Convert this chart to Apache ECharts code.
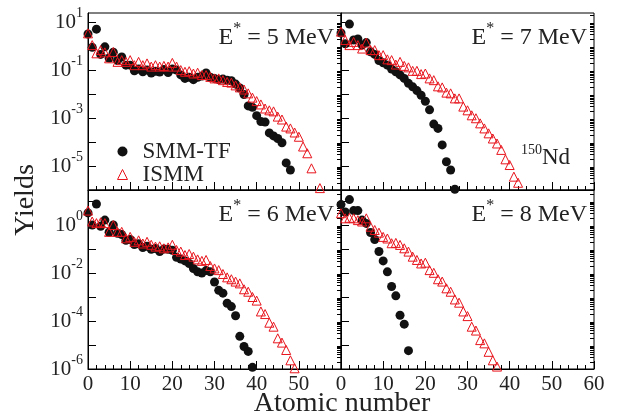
<!DOCTYPE html>
<html>
<head>
<meta charset="utf-8">
<script src="https://cdn.jsdelivr.net/npm/echarts@6.0.0/dist/echarts.min.js"></script>
<style>
html, body { margin: 0; padding: 0; background: #fff; }
#chart_yields { width: 626px; height: 419px; }
</style>
</head>
<body>
<div id="chart_yields"></div>
<script>
// fragment yields of 150Nd, array index = atomic number Z (0, 1, 2, ...)
var smm5 = [3.2, 0.89, 5.1, 0.45, 0.93, 0.32, 0.56, 0.25, 0.35, 0.16, 0.16, 0.093, 0.11, 0.085, 0.10, 0.076,
  0.089, 0.083, 0.105, 0.079, 0.11, 0.10, 0.063, 0.045, 0.05, 0.04, 0.05, 0.056, 0.076, 0.05, 0.045, 0.04,
  0.042, 0.038, 0.036, 0.026, 0.018, 0.0095, 3.2e-3, 2.8e-3, 1.26e-3, 7.1e-4, 6.8e-4, 2.4e-4, 1.8e-4, 1.4e-4,
  9.3e-5, 1.35e-5, 6.8e-6]
var ismm5 = [3.4, 1.1, 0.5, 0.68, 0.55, 0.31, 0.57, 0.22, 0.26, 0.22, 0.26, 0.16, 0.22, 0.16, 0.19, 0.14,
  0.16, 0.14, 0.15, 0.14, 0.2, 0.14, 0.1, 0.085, 0.09, 0.072, 0.078, 0.062, 0.062, 0.052, 0.045, 0.045,
  0.038, 0.032, 0.03, 0.023, 0.019, 0.0155, 0.0107, 0.0071, 0.0051, 0.0037, 0.0025, 0.0021, 0.0019, 0.00115,
  8.7e-4, 4.4e-4, 3.7e-4, 2.5e-4, 1.66e-4, 6.5e-5, 3.4e-5, 8e-6, null, 1.2e-6]
var smm7 = [3.5, 1.26, 8.3, 1.8, 2.0, 1.1, 1.4, 0.58, 0.45, 0.25, 0.2, 0.16, 0.11, 0.085, 0.063, 0.045,
  0.028, 0.02, 0.014, 0.0089, 0.005, 0.0022, 5.6e-4, 3.7e-4, 7.6e-5, 1.5e-5, 6.8e-6, 1.07e-6]
var ismm7 = [4.0, 1.8, 1.1, 1.5, 1.1, 0.79, 1.4, 0.68, 0.68, 0.42, 0.42, 0.28, 0.26, 0.17, 0.22, 0.15,
  0.13, 0.093, 0.093, 0.068, 0.072, 0.045, 0.038, 0.021, 0.019, 0.0115, 0.0107, 0.0066, 0.0066, 0.003,
  0.0021, 0.0013, 9.8e-4, 6.0e-4, 3.7e-4, 2.3e-4, 1.4e-4, 8.7e-5, 4.7e-5, 1.9e-5, 1.1e-5, 3.6e-6, 2.0e-6]
var smm6 = [3.2, 1.0, 7.5, 0.89, 1.6, 0.5, 1.0, 0.45, 0.4, 0.23, 0.25, 0.155, 0.166, 0.115, 0.13, 0.098,
  0.105, 0.079, 0.10, 0.098, 0.089, 0.045, 0.038, 0.032, 0.025, 0.0155, 0.0112, 0.01, 0.0126, 0.0112,
  4.2e-3, 1.9e-3, 1.45e-3, 5.5e-4, 4.0e-4, 1.66e-4, 2.3e-5, 8.7e-6, 5.4e-6, 1.17e-6]
var ismm6 = [4.0, 1.4, 1.2, 1.3, 1.2, 0.52, 1.0, 0.52, 0.52, 0.28, 0.32, 0.2, 0.23, 0.17, 0.2, 0.15,
  0.126, 0.13, 0.107, 0.117, 0.15, 0.091, 0.078, 0.056, 0.062, 0.048, 0.037, 0.032, 0.035, 0.0195,
  0.0155, 0.0132, 0.0091, 0.0066, 0.0055, 0.0044, 0.0037, 0.0021, 0.00166, 0.001, 7.1e-4, 2.5e-4,
  1.95e-4, 8.5e-5, 5.8e-5, 1.9e-5, 1.26e-5, 6.2e-6, 2.3e-6, 1.07e-6]
var smm8 = [7.1, 3.5, 11.5, 4.0, 4.0, 1.6, 1.17, 0.49, 0.25, 0.079, 0.032, 0.0112, 0.00275, 0.00112,
  1.74e-4, 7.4e-5, 5.8e-6]
var ismm8 = [3.1, 1.9, 2.0, 1.9, 1.6, 1.4, 1.9, 0.85, 0.62, 0.48, 0.32, 0.275, 0.174, 0.18, 0.148, 0.107,
  0.078, 0.048, 0.035, 0.025, 0.027, 0.0132, 0.0102, 0.0055, 0.0044, 0.0023, 0.00166, 7.9e-4, 5.8e-4,
  2.5e-4, 1.6e-4, 5.8e-5, 4.0e-5, 1.6e-5, 1.17e-5, 5.2e-6, 2.3e-6, 1.26e-6]

var energies = ['5', '7', '6', '8']
var oddDecades = [1e1, 1e-1, 1e-3, 1e-5]
var evenDecades = [1e0, 1e-2, 1e-4, 1e-6]

var serif = 'Liberation Serif'
var red = '#e8141c'

// major ticks at every decade, minor ticks at 2..9 x decade
var decades = []
var minorVals = []
for (var e = -6; e <= 1; e++) {
  decades.push(Math.pow(10, e))
  for (var m = 2; m <= 9; m++) minorVals.push(m * Math.pow(10, e))
}

var panels = [
  { left: 88, top: 13, height: 177, yMax: 24, smm: smm5, ismm: ismm5, labels: oddDecades, bottom: false, first: true },
  { left: 341, top: 13, height: 177, yMax: 24, smm: smm7, ismm: ismm7, labels: null, bottom: false, first: false },
  { left: 88, top: 190, height: 179, yMax: 28.8, smm: smm6, ismm: ismm6, labels: evenDecades, bottom: true, first: true },
  { left: 341, top: 190, height: 179, yMax: 28.8, smm: smm8, ismm: ismm8, labels: null, bottom: true, first: false }
]

function toPoints(arr) {
  var pts = []
  arr.forEach(function(v, z) {
    if (v != null) pts.push([z, v])
  })
  return pts
}

function supLabel(v) {
  var exp = Math.round(Math.log10(v))
  return '{b|10}{s|' + exp + '}'
}

var grids = []
var xAxes = []
var yAxes = []
var series = []
var graphics = []

panels.forEach(function(p, i) {
  grids.push({
    left: p.left, top: p.top, width: 253, height: p.height,
    show: true, borderColor: '#000', borderWidth: 1, backgroundColor: 'transparent'
  })
  xAxes.push({
    type: 'value', gridIndex: i, min: 0, max: 60, interval: 10,
    axisLine: { onZero: false, lineStyle: { color: '#000', width: 1 } },
    axisTick: { inside: true, length: 8, lineStyle: { color: '#000' } },
    minorTick: { show: true, splitNumber: 5, length: 4, lineStyle: { color: '#000' } },
    splitLine: { show: false },
    axisLabel: {
      show: p.bottom, fontFamily: serif, fontSize: 21, color: '#222', margin: 5,
      formatter: function(v) {
        return p.first && v === 60 ? '' : String(v)
      }
    }
  })
  yAxes.push({
    type: 'log', logBase: 10, gridIndex: i, min: 1e-6, max: p.yMax,
    axisLine: { show: true, lineStyle: { color: '#000', width: 1 } },
    axisTick: { inside: true, length: 8, customValues: decades, lineStyle: { color: '#000' } },
    splitLine: { show: false },
    axisLabel: {
      show: !!p.labels, customValues: p.labels || [], margin: 5,
      formatter: supLabel,
      rich: {
        b: { fontFamily: serif, fontSize: 21, color: '#222' },
        s: { fontFamily: serif, fontSize: 14, color: '#222', padding: [0, 0, 17, 0] }
      }
    }
  })
  yAxes.push({
    type: 'log', logBase: 10, gridIndex: i, min: 1e-6, max: p.yMax,
    axisLine: { show: false },
    axisTick: { inside: true, length: 4, customValues: minorVals, lineStyle: { color: '#000' } },
    axisLabel: { show: false },
    splitLine: { show: false }
  })
  series.push({
    name: 'SMM-TF', type: 'scatter', xAxisIndex: i, yAxisIndex: 2 * i,
    symbol: 'circle', symbolSize: 9,
    itemStyle: { color: '#111', opacity: 1 },
    data: toPoints(p.smm)
  })
  series.push({
    name: 'ISMM', type: 'scatter', xAxisIndex: i, yAxisIndex: 2 * i,
    symbol: 'triangle', symbolSize: 9,
    itemStyle: { color: 'rgba(255,255,255,0)', borderColor: red, borderWidth: 1, opacity: 1 },
    data: toPoints(p.ismm)
  })
  graphics.push({
    type: 'text', x: p.left + 246, y: p.top + 25,
    style: {
      text: '{m|E}{s|*}{m| = ' + energies[i] + ' MeV}',
      align: 'right', verticalAlign: 'middle',
      rich: {
        m: { fontFamily: serif, fontSize: 24, fill: '#222' },
        s: { fontFamily: serif, fontSize: 16, fill: '#222', padding: [0, 0, 18, 0] }
      }
    }
  })
})

graphics.push({
  type: 'text', x: 521, y: 158,
  style: {
    text: '{s|150}{m|Nd}', align: 'left', verticalAlign: 'middle',
    rich: {
      m: { fontFamily: serif, fontSize: 23, fill: '#222' },
      s: { fontFamily: serif, fontSize: 14, fill: '#222', padding: [0, 0, 16, 0] }
    }
  }
})
graphics.push({
  type: 'text', x: 26, y: 200, rotation: Math.PI / 2,
  style: { text: 'Yields', font: '28px ' + serif, fill: '#222', align: 'center', verticalAlign: 'middle' }
})
graphics.push({
  type: 'text', x: 342, y: 404,
  style: { text: 'Atomic number', font: '28px ' + serif, fill: '#222', align: 'center', verticalAlign: 'middle' }
})

var chart = echarts.init(document.getElementById('chart_yields'))
chart.setOption({
  animation: false,
  backgroundColor: '#fff',
  grid: grids,
  xAxis: xAxes,
  yAxis: yAxes,
  legend: {
    orient: 'vertical', left: 112, top: 135, itemGap: 0, itemWidth: 10, itemHeight: 10,
    selectedMode: false,
    textStyle: { fontFamily: serif, fontSize: 23, color: '#222', lineHeight: 21, padding: [0, 0, 0, 10] },
    data: [
      { name: 'SMM-TF', icon: 'circle', itemStyle: { color: '#111' } },
      { name: 'ISMM', icon: 'triangle', itemStyle: { color: 'rgba(255,255,255,0)', borderColor: red, borderWidth: 1 } }
    ]
  },
  graphic: graphics,
  series: series
})
</script>
</body>
</html>
